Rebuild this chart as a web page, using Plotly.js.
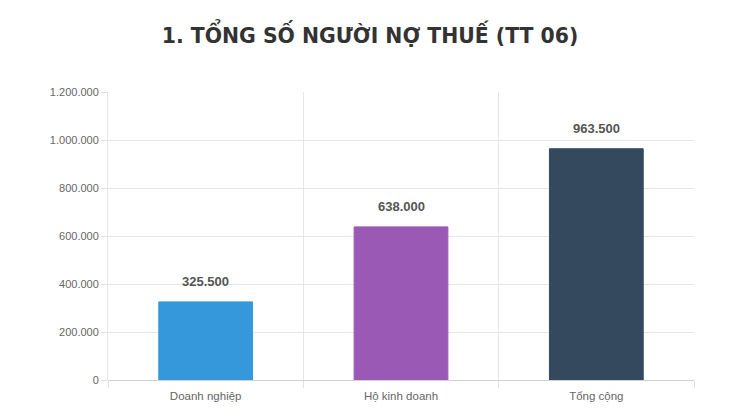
<!DOCTYPE html>
<html>
<head>
<meta charset="utf-8">
<script src="https://cdn.plot.ly/plotly-3.0.1.min.js"></script>
<style>
  html, body { margin: 0; padding: 0; background: #fff; }
  #grafik { width: 740px; height: 417px; }
</style>
</head>
<body>
<div id="grafik"></div>
<script>
// Dữ liệu
const categories = ["Doanh nghiệp", "Hộ kinh doanh", "Tổng cộng"];
const values = [325500, 638000, 963500];
const barColors = ["#3498db", "#9b59b6", "#34495e"];
const yTicks = [0, 200000, 400000, 600000, 800000, 1000000, 1200000];

const fmt = v => v.toString().replace(/\B(?=(\d{3})+(?!\d))/g, ".");

const data = [{
    x: categories,
    y: values,
    type: "bar",
    width: 0.48,
    marker: { color: barColors, line: { color: barColors, width: 1 } },
    hoverinfo: "none"
}];

// nhãn giá trị trên cột
const labels = categories.map((c, i) => ({
    x: c,
    y: values[i],
    text: fmt(values[i]),
    showarrow: false,
    yanchor: "bottom",
    yshift: 11,
    font: { family: "Liberation Sans, Arial, sans-serif", size: 13, color: "#555", weight: "bold" }
}));

const layout = {
    width: 740,
    height: 417,
    margin: { l: 108, r: 46, t: 92, b: 37 },
    paper_bgcolor: "#fff",
    plot_bgcolor: "#fff",
    separators: ",.",
    showlegend: false,
    title: {
        text: "<b>1. TỔNG SỐ NGƯỜI NỢ THUẾ (TT 06)</b>",
        x: 0.5,
        xanchor: "center",
        y: 0.915,
        yanchor: "middle",
        font: { family: "DejaVu Sans, Verdana, sans-serif", size: 20.4, color: "#333" }
    },
    xaxis: {
        type: "category",
        tickson: "boundaries",
        showgrid: true,
        gridcolor: "#e6e6e6",
        ticks: "outside",
        ticklen: 7,
        tickcolor: "#e0e0e0",
        showline: false,
        ticklabelstandoff: 7,
        tickfont: { family: "Liberation Sans, Arial, sans-serif", size: 11.5, color: "#666" },
        fixedrange: true
    },
    yaxis: {
        range: [0, 1200000],
        tickvals: yTicks,
        ticktext: yTicks.map(fmt),
        showgrid: true,
        gridcolor: "#e6e6e6",
        showline: true,
        linecolor: "#e6e6e6",
        zeroline: true,
        zerolinecolor: "#d0d0d0",
        ticks: "outside",
        ticklen: 6,
        tickcolor: "#e0e0e0",
        ticklabelstandoff: 0,
        tickfont: { family: "Liberation Sans, Arial, sans-serif", size: 11, color: "#666" },
        fixedrange: true
    },
    annotations: labels
};

Plotly.newPlot("grafik", data, layout, { displayModeBar: false, staticPlot: true });
</script>
</body>
</html>
